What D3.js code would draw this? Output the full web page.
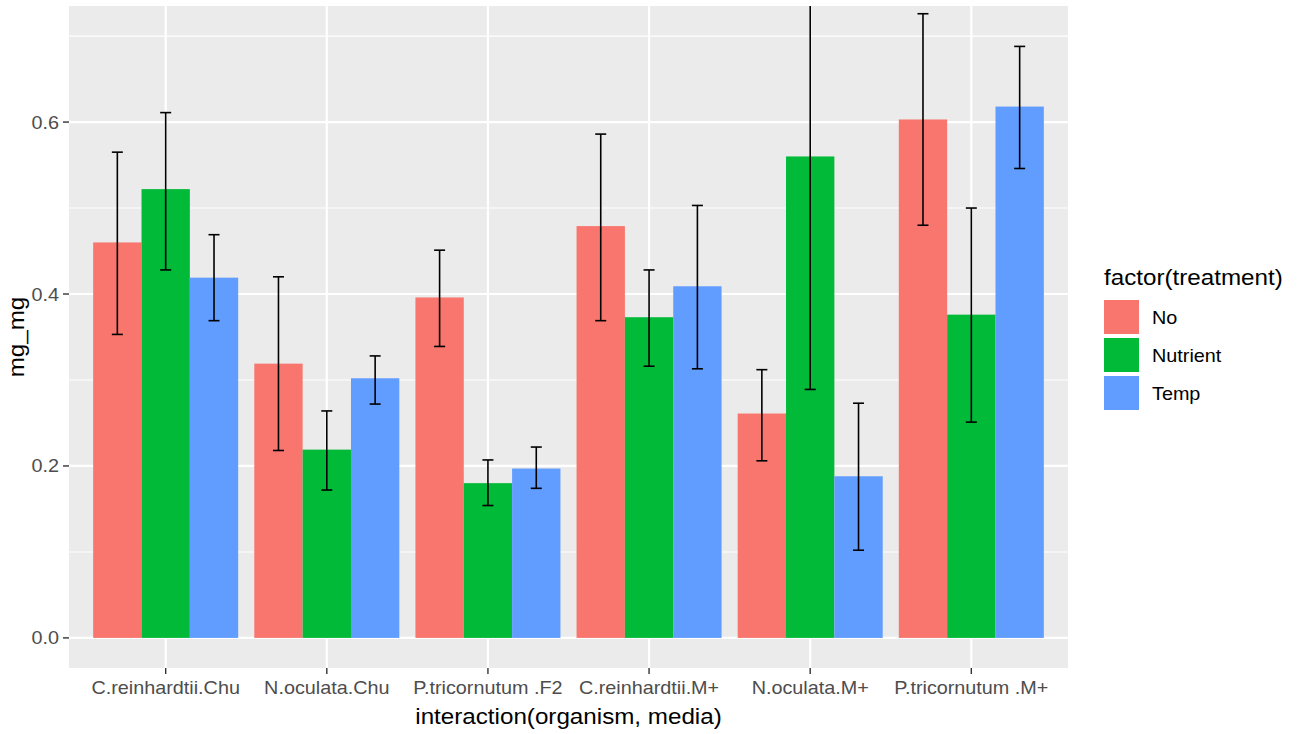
<!DOCTYPE html>
<html>
<head>
<meta charset="utf-8">
<script src="https://cdn.jsdelivr.net/npm/d3@7"></script>
<style>
  body { margin: 0; background: #fff; }
  svg text { font-family: "Liberation Sans", Arial, sans-serif; }
</style>
</head>
<body>
<svg id="chart" width="1302" height="734"></svg>
<script>
const categories = ["C.reinhardtii.Chu", "N.oculata.Chu", "P.tricornutum .F2", "C.reinhardtii.M+", "N.oculata.M+", "P.tricornutum .M+"];
const treatments = ["No", "Nutrient", "Temp"];

const meanNo = [0.460, 0.319, 0.396, 0.479, 0.261, 0.603];
const lowNo = [0.353, 0.218, 0.339, 0.369, 0.206, 0.480];
const highNo = [0.565, 0.420, 0.451, 0.586, 0.312, 0.726];

const meanNutrient = [0.522, 0.219, 0.180, 0.373, 0.560, 0.376];
const lowNutrient = [0.428, 0.172, 0.154, 0.316, 0.289, 0.251];
const highNutrient = [0.611, 0.264, 0.207, 0.428, 0.831, 0.500];

const meanTemp = [0.419, 0.302, 0.197, 0.409, 0.188, 0.618];
const lowTemp = [0.369, 0.272, 0.174, 0.313, 0.102, 0.546];
const highTemp = [0.469, 0.328, 0.222, 0.503, 0.273, 0.688];

const yTicks = [0.0, 0.2, 0.4, 0.6];
const yMinor = [0.1, 0.3, 0.5, 0.7];

const COLORS = { No: "#F8766D", Nutrient: "#00BA38", Temp: "#619CFF" };
const series = { No: [meanNo, lowNo, highNo], Nutrient: [meanNutrient, lowNutrient, highNutrient], Temp: [meanTemp, lowTemp, highTemp] };

const rows = [];
categories.forEach((cat, i) => {
  treatments.forEach((t) => {
    const [m, lo, hi] = series[t];
    rows.push({ cat, treatment: t, mean: m[i], low: lo[i], high: hi[i] });
  });
});

const panel = { left: 69, right: 1068, top: 6, bottom: 668 };
const STRETCH = 1.1;

const svg = d3.select("#chart");

const x = d3.scaleBand().domain(categories).range([panel.left, panel.right]).paddingInner(0.1).paddingOuter(0.15);
const xInner = d3.scaleBand().domain(treatments).range([0, x.bandwidth()]);
const y = d3.scaleLinear().domain([-0.035, 0.735]).range([panel.bottom, panel.top]);

svg.append("defs").append("clipPath").attr("id", "panel-clip")
  .append("rect")
  .attr("x", panel.left).attr("y", panel.top)
  .attr("width", panel.right - panel.left).attr("height", panel.bottom - panel.top);

svg.append("rect")
  .attr("x", panel.left).attr("y", panel.top)
  .attr("width", panel.right - panel.left).attr("height", panel.bottom - panel.top)
  .attr("fill", "#EBEBEB");

const grid = svg.append("g");

grid.selectAll("line.minor")
  .data(yMinor)
  .join("line")
  .attr("class", "minor")
  .attr("x1", panel.left).attr("x2", panel.right)
  .attr("y1", (d) => y(d)).attr("y2", (d) => y(d))
  .attr("stroke", "#fff").attr("stroke-width", 1.1);

grid.selectAll("line.major-y")
  .data(yTicks)
  .join("line")
  .attr("class", "major-y")
  .attr("x1", panel.left).attr("x2", panel.right)
  .attr("y1", (d) => y(d)).attr("y2", (d) => y(d))
  .attr("stroke", "#fff").attr("stroke-width", 2.2);

grid.selectAll("line.major-x")
  .data(categories)
  .join("line")
  .attr("class", "major-x")
  .attr("x1", (d) => x(d) + x.bandwidth() / 2).attr("x2", (d) => x(d) + x.bandwidth() / 2)
  .attr("y1", panel.top).attr("y2", panel.bottom)
  .attr("stroke", "#fff").attr("stroke-width", 2.2);

const plot = svg.append("g").attr("clip-path", "url(#panel-clip)");

const barX = (d) => x(d.cat) + xInner(d.treatment);
const barMid = (d) => barX(d) + xInner.bandwidth() / 2;

plot.selectAll("rect.bar")
  .data(rows)
  .join("rect")
  .attr("class", "bar")
  .attr("x", barX)
  .attr("width", xInner.bandwidth())
  .attr("y", (d) => y(d.mean))
  .attr("height", (d) => y(0) - y(d.mean))
  .attr("fill", (d) => COLORS[d.treatment]);

const capHalf = 5.5;
const errors = plot.selectAll("g.err").data(rows).join("g").attr("class", "err")
  .attr("stroke", "#000").attr("stroke-width", 1.6);

errors.append("line")
  .attr("x1", barMid).attr("x2", barMid)
  .attr("y1", (d) => y(d.low)).attr("y2", (d) => y(d.high));
errors.append("line")
  .attr("x1", (d) => barMid(d) - capHalf).attr("x2", (d) => barMid(d) + capHalf)
  .attr("y1", (d) => y(d.low)).attr("y2", (d) => y(d.low));
errors.append("line")
  .attr("x1", (d) => barMid(d) - capHalf).attr("x2", (d) => barMid(d) + capHalf)
  .attr("y1", (d) => y(d.high)).attr("y2", (d) => y(d.high));

// axes
const yAxis = svg.append("g");
yAxis.selectAll("line.tick")
  .data(yTicks)
  .join("line")
  .attr("class", "tick")
  .attr("x1", panel.left - 6).attr("x2", panel.left)
  .attr("y1", (d) => y(d)).attr("y2", (d) => y(d))
  .attr("stroke", "#333").attr("stroke-width", 1.4);
yAxis.selectAll("text")
  .data(yTicks)
  .join("text")
  .attr("transform", (d) => `translate(${panel.left - 10},${y(d) + 6.5}) scale(${STRETCH},1)`)
  .attr("text-anchor", "end")
  .attr("font-size", 18)
  .attr("fill", "#4D4D4D")
  .text((d) => d3.format(".1f")(d));

const xAxis = svg.append("g");
xAxis.selectAll("line.tick")
  .data(categories)
  .join("line")
  .attr("class", "tick")
  .attr("x1", (d) => x(d) + x.bandwidth() / 2).attr("x2", (d) => x(d) + x.bandwidth() / 2)
  .attr("y1", panel.bottom).attr("y2", panel.bottom + 6)
  .attr("stroke", "#333").attr("stroke-width", 1.4);
xAxis.selectAll("text")
  .data(categories)
  .join("text")
  .attr("transform", (d) => `translate(${x(d) + x.bandwidth() / 2},694) scale(${STRETCH},1)`)
  .attr("text-anchor", "middle")
  .attr("font-size", 18)
  .attr("fill", "#4D4D4D")
  .text((d) => d);

svg.append("text")
  .attr("transform", `translate(${(panel.left + panel.right) / 2},724) scale(${STRETCH},1)`)
  .attr("text-anchor", "middle")
  .attr("font-size", 22)
  .attr("fill", "#000")
  .text("interaction(organism, media)");

svg.append("text")
  .attr("transform", `translate(24,${(panel.top + panel.bottom) / 2}) rotate(-90) scale(${STRETCH},1)`)
  .attr("text-anchor", "middle")
  .attr("font-size", 22)
  .attr("fill", "#000")
  .text("mg_mg");

// legend
const legend = svg.append("g").attr("transform", "translate(1104,0)");
legend.append("text")
  .attr("transform", `translate(0,285) scale(${STRETCH},1)`)
  .attr("font-size", 22)
  .attr("fill", "#000")
  .text("factor(treatment)");

const keys = legend.selectAll("g.key")
  .data(treatments)
  .join("g")
  .attr("class", "key")
  .attr("transform", (d, i) => `translate(0,${300 + i * 38})`);
keys.append("rect")
  .attr("width", 35).attr("height", 34)
  .attr("fill", (d) => COLORS[d]);
keys.append("text")
  .attr("transform", `translate(48,24) scale(${STRETCH},1)`)
  .attr("font-size", 18)
  .attr("fill", "#000")
  .text((d) => d);
</script>
</body>
</html>
